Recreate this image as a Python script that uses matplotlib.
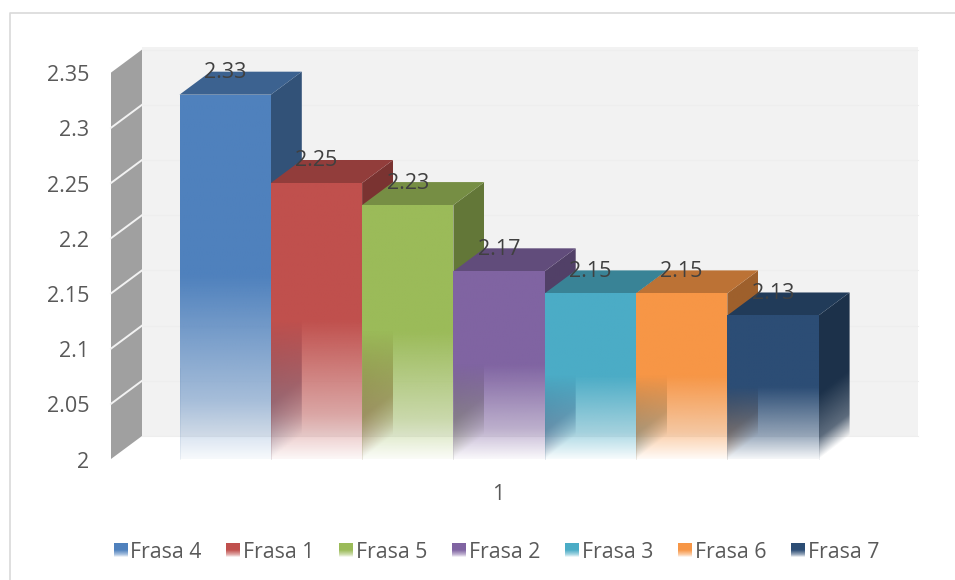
#! /usr/bin/env python
import numpy as np
import matplotlib
matplotlib.use("Agg")
import matplotlib.pyplot as plt
from matplotlib.patches import Polygon, Rectangle

plt.rcParams['font.family'] = ['Open Sans', 'DejaVu Sans']

series = ["Frasa 4", "Frasa 1", "Frasa 5", "Frasa 2", "Frasa 3", "Frasa 6", "Frasa 7"]
values = [2.33, 2.25, 2.23, 2.17, 2.15, 2.15, 2.13]
colors = ["#4F81BD", "#C0504D", "#9BBB59", "#8064A2", "#4BACC6", "#F79646", "#2C4D75"]
ticks = [2, 2.05, 2.1, 2.15, 2.2, 2.25, 2.3, 2.35]
tick_labels = ["2", "2.05", "2.1", "2.15", "2.2", "2.25", "2.3", "2.35"]
category = "1"

W, H = 955, 580
# pixel scale of the front plane
x0_px, bar_px = 179.5, 91.3
y0_px, unit_px = 459.0, 1104.0
dx = 31.0 / bar_px
dy = 23.0 / unit_px
ymin, ymax = ticks[0], ticks[-1]
text_drop = 3.0 / unit_px


def px(x, y):
    """pixel position in the reference -> data position"""
    return (x - x0_px) / bar_px, ymin + (y0_px - y) / unit_px


def rgb(c, f=1.0):
    return np.array(matplotlib.colors.to_rgb(c)) * f


def paint(ax, poly, color, alpha, extent, z):
    """fill a polygon with a colour and an alpha array"""
    img = np.zeros(alpha.shape + (4,))
    img[..., :3] = color
    img[..., 3] = alpha
    im = ax.imshow(img, extent=extent, origin="lower", aspect="auto",
                   interpolation="bilinear", zorder=z)
    patch = Polygon(poly, closed=True, transform=ax.transData)
    im.set_clip_path(patch)


def front_alpha(f):
    return np.interp(f, [0, 0.5, 0.84, 1.0], [1, 1, 0.47, 0.05])


def side_alpha(f):
    return np.interp(f, [0, 0.55, 0.85, 1.0], [1, 1, 0.7, 0.0])


fig = plt.figure(figsize=(W / 100, H / 100), dpi=100)
ax = fig.add_axes([0, 0, 1, 1])
ax.axis("off")

# border of the chart area
lx, ty = px(9.5, 12.5)
rx, by = px(955, 580)
ax.plot([lx, lx, rx], [by, ty, ty], color="#D9D9D9", lw=1.2, zorder=1)

# back wall and its grid
ax.add_patch(Rectangle((px(142, 0)[0], ymin + dy), px(918, 0)[0] - px(142, 0)[0],
                       ymax - ymin + 3 / unit_px, fc="#F2F2F2", ec="none", zorder=1))
wall_x = px(111, 0)[0]
for t in ticks:
    ax.plot([wall_x + dx, px(918, 0)[0]], [t + dy, t + dy], color="#EEEEEE", lw=0.8, zorder=1.1)

# left wall
ax.add_patch(Polygon([(wall_x, ymin), (wall_x + dx, ymin + dy), (wall_x + dx, ymax + dy),
                      (wall_x, ymax)], closed=True, fc="#A0A0A0", ec="none", zorder=1.2))
for t in ticks[1:-1]:
    ax.plot([wall_x, wall_x + dx], [t, t + dy], color="#F2F2F2", lw=1.4, zorder=1.3)

# bars, back to front from the left
for i, (v, c) in enumerate(zip(values, colors)):
    z = 2 + i
    h = v - ymin
    # side face
    ny, nx = 160, 24
    s = np.linspace(0, 1, nx)
    yy = np.linspace(ymin, v + dy, ny)
    S, Y = np.meshgrid(s, yy)
    f = np.clip((v - (Y - S * dy)) / h, 0, 1)
    paint(ax, [(i + 1, ymin), (i + 1 + dx, ymin + dy), (i + 1 + dx, v + dy), (i + 1, v)],
          rgb(c, 0.64), side_alpha(f), [i + 1, i + 1 + dx, ymin, v + dy], z)
    # top face
    ax.add_patch(Polygon([(i, v), (i + 1, v), (i + 1 + dx, v + dy), (i + dx, v + dy)],
                         closed=True, fc=rgb(c, 0.76), ec="none", zorder=z + 0.1))
    # front face
    yy = np.linspace(ymin, v, ny)
    f = ((v - yy) / h).reshape(-1, 1)
    paint(ax, [(i, ymin), (i + 1, ymin), (i + 1, v), (i, v)], rgb(c), front_alpha(f),
          [i, i + 1, ymin, v], z + 0.2)
    ax.plot([i, i], [ymin, ymin + h / 4], color=rgb(c, 0.8), lw=0.5, alpha=0.12, zorder=z + 0.3)
    ax.plot([i + 1, i + 1], [ymin, ymin + h / 4], color=rgb(c, 0.8), lw=0.5, alpha=0.12, zorder=z + 0.3)

# data labels
for i, v in enumerate(values):
    ax.text(i + 0.5, v + 25 / unit_px - text_drop, "%.2f" % v, ha="center", va="center",
            fontsize=15.5, color="#404040", zorder=20)

# value axis labels
for t, lab in zip(ticks, tick_labels):
    ax.text(px(89, 0)[0], t - text_drop, lab, ha="right", va="center", fontsize=15.5,
            color="#595959", zorder=20)

# category label
ax.text(*px(498, 494), category, ha="center", va="center", fontsize=15.5, color="#595959", zorder=20)

# legend
for i, (name, c) in enumerate(zip(series, colors)):
    x_key = 113.5 + 112.9 * i
    xa, ya = px(x_key, 557)
    xb, yb = px(x_key + 14, 543)
    f = np.linspace(1, 0, 40).reshape(-1, 1)
    paint(ax, [(xa, ya), (xb, ya), (xb, yb), (xa, yb)], rgb(c), front_alpha(f), [xa, xb, ya, yb], 20)
    ax.text(*px(x_key + 17, 552), name, ha="left", va="center", fontsize=15.3, color="#595959", zorder=20)

ax.set_xlim(px(0, 0)[0], px(W, 0)[0])
ax.set_ylim(px(0, H)[1], px(0, 0)[1])
fig.savefig("out.png", dpi=100, facecolor="white")
